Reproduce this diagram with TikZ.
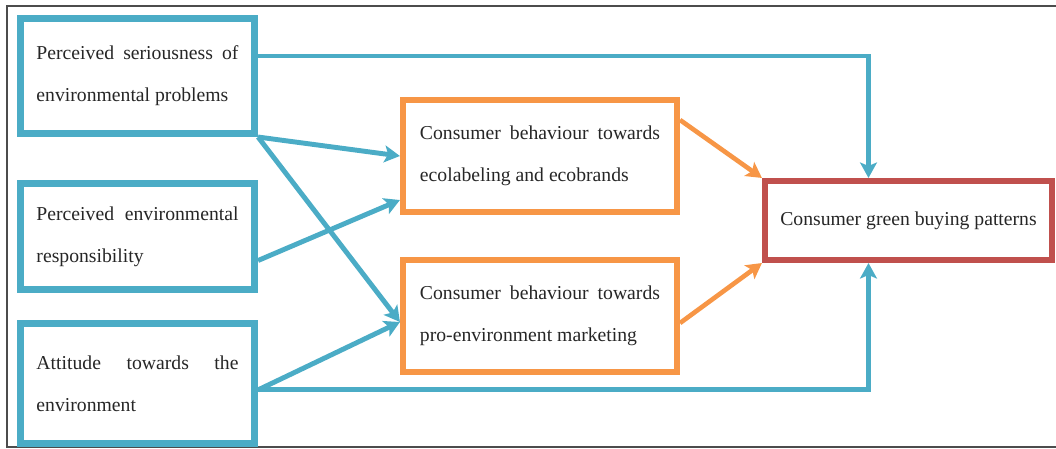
\documentclass[tikz,border=0pt]{standalone}
\usepackage{fontspec}
\setmainfont{Liberation Serif}
\usetikzlibrary{arrows.meta,calc}

\definecolor{boxblue}{HTML}{4BACC6}
\definecolor{boxorange}{HTML}{F79646}
\definecolor{boxred}{HTML}{C0504D}

\tikzset{
  txt/.style={text=black!85,font=\fontsize{14}{30}\selectfont},
  bluebox/.style={txt,draw=boxblue,line width=5pt,text width=5.05cm,inner xsep=0.4cm,minimum width=5.85cm,align=justify},
  orangebox/.style={txt,draw=boxorange,line width=4.3pt,text width=6cm,inner xsep=0.425cm,minimum width=6.85cm,minimum height=2.8cm,align=justify},
  redbox/.style={txt,draw=boxred,line width=4.3pt,minimum width=7.175cm,minimum height=1.975cm},
  bluearrow/.style={draw=boxblue,line width=3.5pt,-{Stealth[length=11pt,width=12pt,inset=2.5pt]}},
  orangearrow/.style={draw=boxorange,line width=3.3pt,-{Stealth[length=11pt,width=12pt,inset=2.5pt]}}
}

\begin{document}
\begin{tikzpicture}[x=0.025cm,y=-0.025cm]
\useasboundingbox (0,0) rectangle (1056,448);
\draw[black!70,line width=1.2pt] (7,6) rectangle (1064,447);

% left column
\node[bluebox,minimum height=2.875cm] (serious) at (137.5,76) {Perceived seriousness of\linebreak environmental problems};
\node[bluebox,minimum height=2.65cm] (respons) at (137.5,236.5) {Perceived environmental\linebreak responsibility};
\node[bluebox,minimum height=3cm] (attitude) at (137.5,383.5) {Attitude towards the\linebreak environment};

% middle column
\node[orangebox] (ecolab) at (540,156) {Consumer behaviour towards\linebreak ecolabeling and ecobrands};
\node[orangebox] (promkt) at (540,316) {Consumer behaviour towards\linebreak pro-environment marketing};

% outcome
\node[redbox] (green) at (908.5,220.5) {Consumer green buying patterns};

% direct paths
\draw[bluearrow] ([yshift=0.5cm]serious.east) -| ([xshift=-1cm]green.north);
\draw[bluearrow] ([yshift=-0.16cm]attitude.east) -| ([xshift=-1cm]green.south);

% paths into the mediators
\draw[bluearrow] (serious.south east) -- (ecolab.west);
\draw[bluearrow] (serious.south east) -- ([yshift=-0.15cm]promkt.west);
\draw[bluearrow] ([yshift=-0.6cm]respons.east) -- ([yshift=-1.1cm]ecolab.west);
\draw[bluearrow] ([yshift=-0.16cm]attitude.east) -- ([yshift=-0.15cm]promkt.west);

% mediators to outcome
\draw[orangearrow] ([yshift=0.9cm]ecolab.east) -- (green.north west);
\draw[orangearrow] ([yshift=-0.175cm]promkt.east) -- (green.south west);

\end{tikzpicture}
\end{document}
